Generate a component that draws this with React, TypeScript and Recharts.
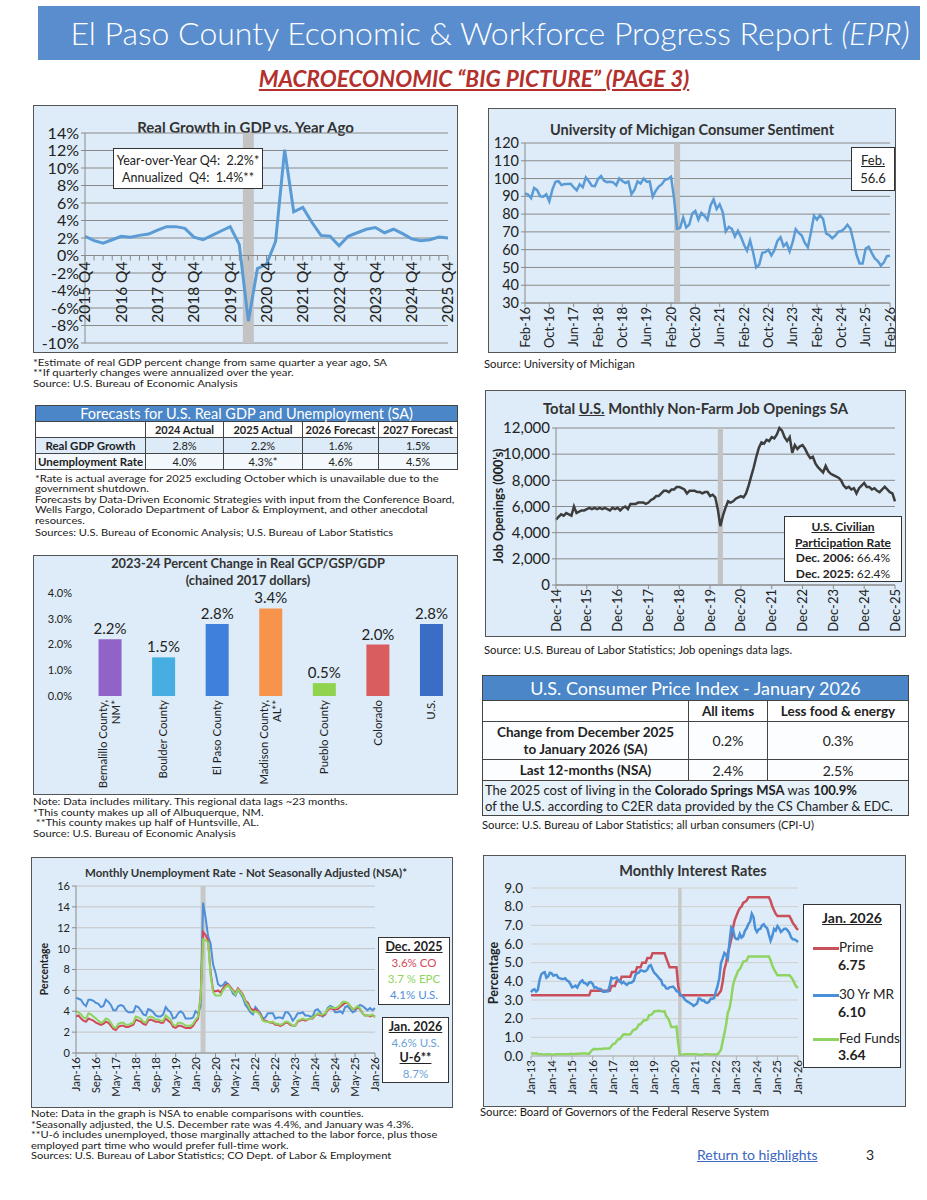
import React from 'react';
import { LineChart, Line, XAxis, YAxis, CartesianGrid, ReferenceArea, BarChart, Bar, Cell, LabelList } from 'recharts';

const FONT = "Lato, 'Open Sans', 'DejaVu Sans', sans-serif";
const MONTHS = ['Jan', 'Feb', 'Mar', 'Apr', 'May', 'Jun', 'Jul', 'Aug', 'Sep', 'Oct', 'Nov', 'Dec'];

function monthLabels(startYear: number, startMonth: number, count: number): string[] {
  const out: string[] = [];
  for (let i = 0; i < count; i++) {
    const k = startMonth + i;
    const y = startYear + Math.floor(k / 12);
    out.push(`${MONTHS[k % 12]}-${String(y % 100).padStart(2, '0')}`);
  }
  return out;
}
function quarterLabels(startYear: number, startQ: number, count: number): string[] {
  const out: string[] = [];
  for (let i = 0; i < count; i++) {
    const k = startQ - 1 + i;
    out.push(`${startYear + Math.floor(k / 4)} Q${(k % 4) + 1}`);
  }
  return out;
}

// ---------- GDP ----------
const gdpQuarters = quarterLabels(2015, 4, 41);
const gdpYoY = [2.2, 1.7, 1.4, 1.8, 2.2, 2.1, 2.3, 2.45, 2.9, 3.3, 3.3, 3.1, 2.1, 1.8, 2.3, 2.8, 3.3, 1.25, -7.5, -1.5, -1.0, 1.6, 12.1, 5.0, 5.5, 3.8, 2.3, 2.2, 1.1, 2.2, 2.6, 3.0, 3.2, 2.6, 3.0, 2.5, 1.9, 1.7, 1.8, 2.1, 2.0];
const gdpTicks = [-10, -8, -6, -4, -2, 0, 2, 4, 6, 8, 10, 12, 14];

// ---------- Consumer sentiment (Feb-16 .. Feb-26) ----------
const sent2016 = [91.7, 91.0, 89.0, 94.7, 93.5, 90.0, 89.8, 91.2, 87.2, 93.8, 98.2];
const sent2017 = [98.5, 96.3, 96.9, 97.0, 97.1, 95.1, 93.4, 96.8, 95.1, 100.7, 98.5, 95.9];
const sent2018 = [95.7, 99.7, 101.4, 98.8, 98.0, 98.2, 97.9, 96.2, 100.1, 98.6, 97.5, 98.3];
const sent2019 = [91.2, 93.8, 98.4, 97.2, 100.0, 98.2, 98.4, 89.8, 93.2, 95.5, 96.8, 99.3];
const sent2020 = [99.8, 101.0, 89.1, 71.8, 72.3, 78.1, 72.5, 74.1, 80.4, 81.8, 76.9, 80.7];
const sent2021 = [79.0, 76.8, 84.9, 88.3, 82.9, 85.5, 81.2, 70.3, 72.8, 71.7, 67.4, 70.6];
const sent2022 = [67.2, 62.8, 59.4, 65.2, 58.4, 50.0, 51.5, 58.2, 58.6, 59.9, 56.8, 59.7];
const sent2023 = [64.9, 67.0, 62.0, 63.7, 59.0, 64.2, 71.5, 69.4, 67.9, 63.8, 61.3, 69.7];
const sent2024 = [79.0, 76.9, 79.4, 77.2, 69.1, 68.2, 66.4, 67.9, 70.1, 70.5, 71.8, 74.0];
const sent2025 = [71.7, 64.7, 57.0, 52.2, 52.2, 60.7, 61.7, 58.2, 55.1, 53.6, 51.0, 52.9];
const sent2026 = [56.4, 56.6];
const sentTicks = [30, 40, 50, 60, 70, 80, 90, 100, 110, 120];

// ---------- Job openings (Dec-14 .. Dec-25), thousands ----------
const jobs2014 = [5000];
const jobs2015 = [5200, 5400, 5300, 5500, 5400, 5300, 6000, 5500, 5600, 5700, 5700, 5800];
const jobs2016 = [5900, 5800, 5900, 5800, 5900, 5800, 5900, 5800, 5700, 5900, 5800, 5900];
const jobs2017 = [5700, 5900, 6000, 5800, 6200, 6200, 6200, 6300, 6300, 6300, 6200, 6300];
const jobs2018 = [6500, 6600, 6800, 6800, 7000, 7200, 7200, 7100, 7300, 7300, 7500, 7500];
const jobs2019 = [7400, 7300, 7000, 7200, 7200, 7200, 7100, 7100, 7000, 7100, 7100, 6800];
const jobs2020 = [6900, 6700, 5800, 4500, 5300, 5900, 6400, 6300, 6400, 6600, 6700, 6800];
const jobs2021 = [6700, 7000, 7600, 8300, 9000, 9800, 10500, 10900, 10800, 11100, 11000, 11300];
const jobs2022 = [11200, 11500, 12000, 11800, 11300, 11000, 11300, 10100, 10700, 10400, 10600, 10700];
const jobs2023 = [10400, 10000, 9700, 9800, 9300, 9000, 8800, 8600, 9100, 8700, 8500, 8400];
const jobs2024 = [8300, 8200, 8000, 7600, 7400, 7500, 7300, 7400, 7000, 7400, 7600, 7800];
const jobs2025 = [7500, 7500, 7300, 7400, 7200, 7100, 7300, 7500, 7300, 7100, 7000, 6400];
const jobsTicks = [0, 2000, 4000, 6000, 8000, 10000, 12000];

// ---------- Regional GDP bars ----------
const regionNames = ['Bernalillo County, NM*', 'Boulder County', 'El Paso County', 'Madison County, AL**', 'Pueblo County', 'Colorado', 'U.S.'];
const regionGrowth = [2.2, 1.5, 2.8, 3.4, 0.5, 2.0, 2.8];
const regionColors = ['#9163c9', '#46aee0', '#3f80dc', '#f7944c', '#8fd34f', '#d95c5e', '#3a6ec6'];
const regionTicks = [0, 1, 2, 3, 4];

// ---------- Unemployment NSA (Jan-16 .. Jan-26) ----------
const usU = [
  5.3, 5.2, 5.1, 4.7, 4.5, 5.1, 5.1, 5.0, 4.8, 4.7, 4.4, 4.5,
  5.1, 4.9, 4.6, 4.1, 4.1, 4.5, 4.6, 4.5, 4.1, 3.9, 3.9, 3.9,
  4.5, 4.4, 4.1, 3.7, 3.6, 4.2, 4.1, 3.9, 3.6, 3.5, 3.5, 3.7,
  4.4, 4.1, 3.9, 3.3, 3.4, 3.8, 4.0, 3.8, 3.3, 3.3, 3.3, 3.4,
  4.0, 3.8, 4.5, 14.4, 13.0, 11.2, 10.5, 8.5, 7.7, 6.6, 6.4, 6.5,
  6.8, 6.6, 6.2, 5.7, 5.5, 6.1, 5.7, 5.3, 4.6, 4.3, 3.9, 3.7,
  4.4, 4.1, 3.8, 3.3, 3.4, 3.8, 3.8, 3.8, 3.3, 3.4, 3.4, 3.3,
  3.9, 3.9, 3.6, 3.1, 3.4, 3.8, 3.8, 3.9, 3.6, 3.6, 3.5, 3.5,
  4.1, 4.2, 3.9, 3.5, 3.7, 4.3, 4.5, 4.4, 3.9, 3.9, 4.0, 3.8,
  4.4, 4.5, 4.2, 3.9, 4.0, 4.4, 4.6, 4.5, 4.3, 4.1, 4.3, 4.1,
  4.3,
];
const coU = [
  3.5, 3.6, 3.3, 3.1, 3.0, 3.3, 3.2, 3.1, 2.9, 2.8, 2.7, 2.8,
  3.0, 2.9, 2.6, 2.3, 2.2, 2.5, 2.6, 2.6, 2.5, 2.5, 2.6, 2.7,
  3.2, 3.1, 3.0, 2.8, 2.7, 3.1, 3.2, 3.1, 3.0, 3.0, 2.9, 2.9,
  3.3, 3.1, 2.9, 2.5, 2.4, 2.6, 2.6, 2.5, 2.4, 2.4, 2.4, 2.6,
  3.0, 3.3, 5.4, 11.6, 11.3, 10.8, 7.8, 6.0, 5.9, 6.0, 5.8, 6.2,
  6.5, 6.6, 6.3, 6.0, 5.7, 6.2, 5.9, 5.6, 5.0, 4.8, 4.3, 4.1,
  4.2, 4.0, 3.7, 3.2, 3.1, 3.0, 2.9, 2.9, 2.7, 2.7, 2.6, 2.7,
  2.9, 2.9, 2.7, 2.6, 2.6, 3.0, 3.1, 3.2, 3.1, 3.2, 3.3, 3.3,
  3.6, 3.7, 3.6, 3.6, 3.7, 4.1, 4.3, 4.2, 4.2, 4.2, 4.4, 4.6,
  4.8, 4.8, 4.5, 4.2, 4.2, 4.4, 4.2, 3.8, 3.6, 3.6, 3.5, 3.6,
  3.5,
];
const epcU = [
  4.0, 3.9, 3.7, 3.4, 3.3, 3.8, 3.7, 3.5, 3.3, 3.1, 2.9, 3.0,
  3.3, 3.2, 2.9, 2.5, 2.4, 2.8, 2.9, 2.9, 2.7, 2.7, 2.8, 2.9,
  3.5, 3.4, 3.3, 3.0, 2.9, 3.4, 3.5, 3.4, 3.2, 3.2, 3.1, 3.1,
  3.6, 3.4, 3.2, 2.7, 2.6, 2.9, 2.9, 2.8, 2.6, 2.6, 2.6, 2.8,
  3.2, 3.5, 5.2, 10.9, 10.8, 10.6, 7.5, 5.8, 5.5, 5.5, 5.5, 6.0,
  6.3, 6.5, 6.2, 5.9, 5.6, 6.1, 5.8, 5.5, 4.9, 4.6, 4.1, 3.9,
  4.0, 3.9, 3.6, 3.1, 3.0, 3.0, 2.9, 3.0, 2.8, 2.8, 2.7, 2.8,
  3.0, 3.0, 2.8, 2.6, 2.6, 3.1, 3.2, 3.3, 3.2, 3.2, 3.3, 3.4,
  3.6, 3.8, 3.7, 3.7, 3.8, 4.2, 4.4, 4.3, 4.3, 4.4, 4.6, 4.9,
  4.9, 4.8, 4.5, 4.2, 4.3, 4.5, 4.3, 3.8, 3.6, 3.6, 3.6, 3.7,
  3.4,
];
const unempTicks = [0, 2, 4, 6, 8, 10, 12, 14, 16];

// ---------- Interest rates (Jan-13 .. Jan-26) ----------
const primeRate = [
  3.25, 3.25, 3.25, 3.25, 3.25, 3.25, 3.25, 3.25, 3.25, 3.25, 3.25, 3.25,
  3.25, 3.25, 3.25, 3.25, 3.25, 3.25, 3.25, 3.25, 3.25, 3.25, 3.25, 3.25,
  3.25, 3.25, 3.25, 3.25, 3.25, 3.25, 3.25, 3.25, 3.25, 3.25, 3.25, 3.5,
  3.5, 3.5, 3.5, 3.5, 3.5, 3.5, 3.5, 3.5, 3.5, 3.5, 3.5, 3.75,
  3.75, 3.75, 4.0, 4.0, 4.0, 4.25, 4.25, 4.25, 4.25, 4.25, 4.25, 4.5,
  4.5, 4.5, 4.75, 4.75, 4.75, 5.0, 5.0, 5.0, 5.25, 5.25, 5.25, 5.5,
  5.5, 5.5, 5.5, 5.5, 5.5, 5.5, 5.5, 5.25, 5.0, 4.75, 4.75, 4.75,
  4.75, 4.75, 3.78, 3.25, 3.25, 3.25, 3.25, 3.25, 3.25, 3.25, 3.25, 3.25,
  3.25, 3.25, 3.25, 3.25, 3.25, 3.25, 3.25, 3.25, 3.25, 3.25, 3.25, 3.25,
  3.25, 3.25, 3.37, 3.5, 3.98, 4.65, 4.98, 5.5, 5.85, 6.25, 6.85, 7.27,
  7.5, 7.74, 7.92, 8.0, 8.21, 8.25, 8.33, 8.5, 8.5, 8.5, 8.5, 8.5,
  8.5, 8.5, 8.5, 8.5, 8.5, 8.5, 8.5, 8.5, 8.3, 8.0, 7.81, 7.61,
  7.5, 7.5, 7.5, 7.5, 7.5, 7.5, 7.5, 7.5, 7.32, 7.12, 7.0, 6.86,
  6.75,
];
const mortgageRate = [
  3.41, 3.53, 3.57, 3.45, 3.54, 4.07, 4.37, 4.46, 4.49, 4.19, 4.26, 4.46,
  4.43, 4.30, 4.34, 4.34, 4.19, 4.16, 4.13, 4.12, 4.16, 4.04, 4.00, 3.86,
  3.67, 3.71, 3.77, 3.67, 3.84, 3.98, 4.05, 3.91, 3.89, 3.80, 3.94, 3.96,
  3.87, 3.66, 3.69, 3.61, 3.60, 3.57, 3.44, 3.44, 3.46, 3.47, 3.77, 4.20,
  4.15, 4.17, 4.20, 4.05, 4.01, 3.90, 3.97, 3.88, 3.81, 3.90, 3.92, 3.95,
  4.03, 4.33, 4.44, 4.47, 4.59, 4.57, 4.53, 4.55, 4.63, 4.83, 4.87, 4.64,
  4.46, 4.37, 4.27, 4.14, 4.07, 3.80, 3.77, 3.62, 3.61, 3.69, 3.70, 3.72,
  3.62, 3.47, 3.45, 3.31, 3.23, 3.16, 3.02, 2.94, 2.89, 2.83, 2.77, 2.68,
  2.74, 2.81, 3.08, 3.06, 2.96, 2.98, 2.87, 2.84, 2.90, 3.07, 3.07, 3.10,
  3.45, 3.76, 4.17, 4.98, 5.23, 5.52, 5.41, 5.22, 6.11, 6.90, 6.81, 6.36,
  6.27, 6.26, 6.54, 6.34, 6.43, 6.71, 6.84, 7.07, 7.20, 7.62, 7.44, 6.82,
  6.64, 6.78, 6.82, 7.00, 7.06, 6.92, 6.85, 6.50, 6.18, 6.43, 6.81, 6.72,
  6.96, 6.84, 6.65, 6.73, 6.82, 6.82, 6.72, 6.59, 6.35, 6.25, 6.24, 6.19,
  6.10,
];
const fedFunds = [
  0.14, 0.15, 0.14, 0.15, 0.11, 0.09, 0.09, 0.08, 0.08, 0.09, 0.08, 0.09,
  0.07, 0.07, 0.08, 0.09, 0.09, 0.10, 0.09, 0.09, 0.09, 0.09, 0.09, 0.12,
  0.11, 0.11, 0.11, 0.12, 0.12, 0.13, 0.13, 0.14, 0.14, 0.12, 0.12, 0.24,
  0.34, 0.38, 0.36, 0.37, 0.37, 0.38, 0.39, 0.40, 0.40, 0.40, 0.41, 0.54,
  0.65, 0.66, 0.79, 0.90, 0.91, 1.04, 1.15, 1.16, 1.15, 1.15, 1.16, 1.30,
  1.41, 1.42, 1.51, 1.69, 1.70, 1.82, 1.91, 1.91, 1.95, 2.19, 2.20, 2.27,
  2.40, 2.40, 2.41, 2.42, 2.39, 2.38, 2.40, 2.13, 2.04, 1.83, 1.55, 1.55,
  1.55, 1.58, 0.65, 0.05, 0.05, 0.08, 0.09, 0.10, 0.09, 0.09, 0.09, 0.09,
  0.09, 0.08, 0.07, 0.07, 0.06, 0.08, 0.10, 0.09, 0.08, 0.08, 0.08, 0.08,
  0.08, 0.08, 0.20, 0.33, 0.77, 1.21, 1.68, 2.33, 2.56, 3.08, 3.78, 4.10,
  4.33, 4.57, 4.65, 4.83, 5.06, 5.08, 5.12, 5.33, 5.33, 5.33, 5.33, 5.33,
  5.33, 5.33, 5.33, 5.33, 5.33, 5.33, 5.33, 5.33, 5.13, 4.83, 4.64, 4.48,
  4.33, 4.33, 4.33, 4.33, 4.33, 4.33, 4.33, 4.33, 4.22, 4.09, 3.88, 3.72,
  3.64,
];
const rateTicks = [0, 1, 2, 3, 4, 5, 6, 7, 8, 9];

// ---------- build tables for recharts ----------
const gdpRows = gdpQuarters.map((q, i) => ({ i, q, v: gdpYoY[i], zero: 0 }));
const sentAll = [...sent2016, ...sent2017, ...sent2018, ...sent2019, ...sent2020, ...sent2021, ...sent2022, ...sent2023, ...sent2024, ...sent2025, ...sent2026];
const sentRows = monthLabels(2016, 1, sentAll.length).map((m, i) => ({ m, v: sentAll[i] }));
const jobsAll = [...jobs2014, ...jobs2015, ...jobs2016, ...jobs2017, ...jobs2018, ...jobs2019, ...jobs2020, ...jobs2021, ...jobs2022, ...jobs2023, ...jobs2024, ...jobs2025];
const jobsRows = monthLabels(2014, 11, jobsAll.length).map((m, i) => ({ m, v: jobsAll[i] }));
const regionRows = regionNames.map((name, i) => ({ name, v: regionGrowth[i] }));
const unempRows = monthLabels(2016, 0, usU.length).map((m, i) => ({ m, us: usU[i], co: coU[i], epc: epcU[i] }));
const rateRows = monthLabels(2013, 0, primeRate.length).map((m, i) => ({ m, prime: primeRate[i], mort: mortgageRate[i], ff: fedFunds[i] }));

// ---------- helpers ----------
const rotTick = (fs: number) => (props: any) => {
  const { x, y, payload } = props;
  return (
    <text x={x} y={y} transform={`rotate(-90 ${x} ${y})`} textAnchor="end" dy="0.35em" fontSize={fs} fill="#222" fontFamily={FONT}>
      {payload.value}
    </text>
  );
};

const regionTick = (props: any) => {
  const { x, y, payload } = props;
  const s: string = payload.value;
  const parts = s.length > 16 && s.includes(', ') ? [s.slice(0, s.indexOf(', ') + 1), s.slice(s.indexOf(', ') + 2)] : [s];
  const gap = 13;
  return (
    <g transform={`translate(${x},${y}) rotate(-90)`}>
      {parts.map((p, k) => (
        <text key={k} x={0} y={(k - (parts.length - 1) / 2) * gap} dy="0.35em" textAnchor="end" fontSize={11.4} fill="#222" fontFamily={FONT}>
          {p}
        </text>
      ))}
    </g>
  );
};

const quarterDot = (props: any) => {
  const { cx, cy, index, payload } = props;
  const lab: string = payload.q;
  return (
    <g key={`qd-${index}`}>
      <line x1={cx} y1={cy} x2={cx} y2={cy + 5} stroke="#8a8a8a" strokeWidth={1} />
      {lab.endsWith('Q4') && (
        <text transform={`translate(${cx},${cy + 6}) rotate(-90)`} textAnchor="end" dy="0.35em" fontSize={15.5} fill="#222" fontFamily={FONT}>
          {lab}
        </text>
      )}
    </g>
  );
};

const Abs = ({ x, y, w, h, style, children }: any) => (
  <div style={{ position: 'absolute', left: x, top: y, width: w, height: h, ...style }}>{children}</div>
);

const Note = ({ x, y, lh = 10.4, size = 10.3, sx = 1, lines }: any) => (
  <div style={{ position: 'absolute', left: x, top: y, fontSize: size, lineHeight: `${lh}px`, color: '#1a1a1a', whiteSpace: 'pre', transform: `scaleX(${sx})`, transformOrigin: 'left top' }}>
    {lines.map((l: any, i: number) => (
      <div key={i}>{l}</div>
    ))}
  </div>
);

const RotLabel = ({ cx, cy, size, text }: any) => (
  <div style={{ position: 'absolute', left: cx, top: cy, transform: 'translate(-50%,-50%) rotate(-90deg)', fontSize: size, fontWeight: 700, whiteSpace: 'nowrap', color: '#222' }}>
    {text}
  </div>
);

const PANEL_BG = '#ddecf8';
const panel = { background: PANEL_BG, border: '1px solid #555', boxSizing: 'border-box' as const };
const td = (extra: any = {}) => ({ border: '1px solid #444', padding: 0, textAlign: 'center' as const, ...extra });

export default function App() {
  return (
    <div style={{ position: 'absolute', left: 0, top: 0, width: 927, height: 1200, background: '#fff', overflow: 'hidden', fontFamily: FONT, color: '#1a1a1a' }}>
      <style>{'.recharts-surface{overflow:visible}'}</style>
      {/* Header */}
      <Abs x={38} y={6} w={882} h={54} style={{ background: '#5a8dcd', color: '#fff', fontSize: 32, lineHeight: '54px', textAlign: 'center', fontWeight: 300, whiteSpace: 'nowrap', paddingLeft: 22, boxSizing: 'border-box' }}>
        El Paso County Economic &amp; Workforce Progress Report <i>(EPR)</i>
      </Abs>
      <Abs x={0} y={65} w={948} h={28} style={{ textAlign: 'center', color: '#b3302d', fontSize: 22.5, fontWeight: 700, fontStyle: 'italic', textDecoration: 'underline', lineHeight: '28px' }}>
        MACROECONOMIC “BIG PICTURE” (PAGE 3)
      </Abs>

      {/* GDP panel */}
      <Abs x={33} y={105} w={425} h={248} style={panel} />
      <Abs x={33} y={117} w={425} h={20} style={{ textAlign: 'center', fontSize: 15, fontWeight: 700, lineHeight: '20px', color: '#333' }}>
        Real Growth in GDP vs. Year Ago
      </Abs>
      <div style={{ position: 'absolute', left: 33, top: 105 }}>
        <LineChart width={425} height={248} data={gdpRows} margin={{ top: 28, right: 10, bottom: 10, left: 0 }}>
          <CartesianGrid vertical={false} stroke="#8a8a8a" />
          <ReferenceArea x1={17.4} x2={18.6} fill="#c3c3c3" fillOpacity={1} stroke="none" />
          <XAxis type="number" dataKey="i" domain={[0, 40]} hide />
          <YAxis domain={[-10, 14]} ticks={gdpTicks} interval={0} tickFormatter={(v: number) => `${v}%`} width={52} tick={{ fontSize: 16, fill: '#222' }} axisLine={{ stroke: '#8a8a8a' }} tickLine={{ stroke: '#8a8a8a' }} tickSize={4} />
          <Line dataKey="zero" stroke="#8a8a8a" strokeWidth={1} dot={quarterDot} activeDot={false} isAnimationActive={false} />
          <Line dataKey="v" stroke="#5b9bd5" strokeWidth={3} dot={false} isAnimationActive={false} />
        </LineChart>
      </div>
      <Abs x={113} y={148} w={150} h={41} style={{ background: '#fff', border: '1px solid #333', boxSizing: 'border-box', fontSize: 12.5, lineHeight: '17px', textAlign: 'center', paddingTop: 3, color: '#222' }}>
        <div>Year-over-Year Q4:&nbsp; 2.2%*</div>
        <div>Annualized&nbsp; Q4:&nbsp; 1.4%**</div>
      </Abs>
      <Note x={33} y={357} sx={1.1} lines={['*Estimate of real GDP percent change from same quarter a year ago, SA', '**If quarterly changes were annualized over the year.', 'Source: U.S. Bureau of Economic Analysis']} />

      {/* Consumer sentiment panel */}
      <Abs x={488} y={108} w={408} h={245} style={panel} />
      <Abs x={488} y={120} w={408} h={20} style={{ textAlign: 'center', fontSize: 14.5, fontWeight: 700, lineHeight: '20px', color: '#333' }}>
        University of Michigan Consumer Sentiment
      </Abs>
      <div style={{ position: 'absolute', left: 488, top: 108 }}>
        <LineChart width={408} height={245} data={sentRows} margin={{ top: 35, right: 6, bottom: 0, left: 0 }}>
          <CartesianGrid vertical={false} stroke="#8a8a8a" />
          <ReferenceArea x1="Mar-20" x2="May-20" fill="#c3c3c3" fillOpacity={1} stroke="none" />
          <XAxis dataKey="m" interval={7} height={50} tick={rotTick(13)} tickSize={4} tickMargin={0} axisLine={{ stroke: '#8a8a8a' }} tickLine={{ stroke: '#8a8a8a' }} />
          <YAxis domain={[30, 120]} ticks={sentTicks} interval={0} width={37} tick={{ fontSize: 14.5, fill: '#222' }} axisLine={{ stroke: '#8a8a8a' }} tickLine={{ stroke: '#8a8a8a' }} tickSize={4} />
          <Line dataKey="v" stroke="#5b9bd5" strokeWidth={2.5} dot={false} isAnimationActive={false} />
        </LineChart>
      </div>
      <Abs x={851} y={147} w={44} h={44} style={{ background: '#fff', border: '1px solid #333', boxSizing: 'border-box', fontSize: 13, lineHeight: '18px', textAlign: 'center', paddingTop: 3, color: '#222' }}>
        <div style={{ textDecoration: 'underline' }}>Feb.</div>
        <div>56.6</div>
      </Abs>
      <Note x={484} y={358} lh={12} size={11.3} lines={['Source: University of Michigan']} />

      {/* Forecast table */}
      <table style={{ position: 'absolute', left: 35, top: 405, width: 422, borderCollapse: 'collapse', tableLayout: 'fixed', fontSize: 11, color: '#222' }}>
        <colgroup>
          <col style={{ width: 110 }} />
          <col style={{ width: 78 }} />
          <col style={{ width: 79 }} />
          <col style={{ width: 76 }} />
          <col style={{ width: 79 }} />
        </colgroup>
        <tbody>
          <tr style={{ height: 16 }}>
            <td colSpan={5} style={td({ background: '#4a86c8', color: '#fff', fontSize: 14.5, lineHeight: '15px' })}>Forecasts for U.S. Real GDP and Unemployment (SA)</td>
          </tr>
          <tr style={{ height: 16, background: '#fff', fontWeight: 700 }}>
            <td style={td()}></td>
            <td style={td()}>2024 Actual</td>
            <td style={td()}>2025 Actual</td>
            <td style={td()}>2026 Forecast</td>
            <td style={td()}>2027 Forecast</td>
          </tr>
          <tr style={{ height: 16, background: '#dcebf7' }}>
            <td style={td({ fontWeight: 700, fontSize: 11.5 })}>Real GDP Growth</td>
            <td style={td()}>2.8%</td>
            <td style={td()}>2.2%</td>
            <td style={td()}>1.6%</td>
            <td style={td()}>1.5%</td>
          </tr>
          <tr style={{ height: 16, background: '#f3f8fc' }}>
            <td style={td({ fontWeight: 700, fontSize: 11.5 })}>Unemployment Rate</td>
            <td style={td()}>4.0%</td>
            <td style={td()}>4.3%*</td>
            <td style={td()}>4.6%</td>
            <td style={td()}>4.5%</td>
          </tr>
        </tbody>
      </table>
      <Note x={35} y={473} sx={1.09} lines={['*Rate is actual average for 2025 excluding October which is unavailable due to the', 'government shutdown.', 'Forecasts by Data-Driven Economic Strategies with input from the Conference Board,', 'Wells Fargo, Colorado Department of Labor & Employment, and other anecdotal', 'resources.']} />
      <Note x={35} y={527} lh={11} size={10.3} sx={1.08} lines={['Sources: U.S. Bureau of Economic Analysis; U.S. Bureau of Labor Statistics']} />

      {/* Regional bar panel */}
      <Abs x={33} y={555} w={425} h={240} style={panel} />
      <Abs x={33} y={555} w={430} h={34} style={{ textAlign: 'center', fontSize: 12.8, fontWeight: 700, lineHeight: '17px', color: '#333' }}>
        <div>2023-24 Percent Change in Real GCP/GSP/GDP</div>
        <div>(chained 2017 dollars)</div>
      </Abs>
      <div style={{ position: 'absolute', left: 33, top: 555 }}>
        <BarChart width={425} height={240} data={regionRows} margin={{ top: 38, right: 0, bottom: 0, left: 0 }} barCategoryGap="29%">
          <XAxis dataKey="name" interval={0} height={99} tick={regionTick} axisLine={false} tickLine={false} tickSize={4} tickMargin={0} />
          <YAxis domain={[0, 4]} ticks={regionTicks} interval={0} tickFormatter={(v: number) => `${v.toFixed(1)}%`} width={50} tick={{ fontSize: 11, fill: '#222' }} axisLine={false} tickLine={false} tickSize={6} tickMargin={5} />
          <Bar dataKey="v" isAnimationActive={false}>
            {regionRows.map((r, i) => (
              <Cell key={r.name} fill={regionColors[i]} />
            ))}
            <LabelList dataKey="v" position="top" offset={5} formatter={(v: any) => `${Number(v).toFixed(1)}%`} style={{ fontSize: 15, fill: '#222' }} />
          </Bar>
        </BarChart>
      </div>
      <Note x={33} y={796} lh={10.6} sx={1.09} lines={['Note: Data includes military. This regional data lags ~23 months.', '*This county makes up all of Albuquerque, NM.', ' **This county makes up half of Huntsville, AL.', 'Source: U.S. Bureau of Economic Analysis']} />

      {/* Job openings panel */}
      <Abs x={485} y={390} w={421} h={247} style={panel} />
      <Abs x={485} y={398} w={421} h={20} style={{ textAlign: 'center', fontSize: 14.8, fontWeight: 700, lineHeight: '20px', color: '#333' }}>
        Total <span style={{ textDecoration: 'underline' }}>U.S.</span> Monthly Non-Farm Job Openings SA
      </Abs>
      <div style={{ position: 'absolute', left: 485, top: 390 }}>
        <LineChart width={421} height={247} data={jobsRows} margin={{ top: 38, right: 11, bottom: 0, left: 0 }}>
          <CartesianGrid vertical={false} stroke="#8a8a8a" />
          <ReferenceArea x1="Mar-20" x2="May-20" fill="#c3c3c3" fillOpacity={1} stroke="none" />
          <XAxis dataKey="m" interval={11} height={52} tick={rotTick(13)} tickSize={4} tickMargin={0} axisLine={{ stroke: '#8a8a8a' }} tickLine={{ stroke: '#8a8a8a' }} />
          <YAxis domain={[0, 12000]} ticks={jobsTicks} interval={0} tickFormatter={(v: number) => v.toLocaleString('en-US')} width={71} tick={{ fontSize: 15, fill: '#222' }} axisLine={{ stroke: '#8a8a8a' }} tickLine={{ stroke: '#8a8a8a' }} tickSize={4} />
          <Line dataKey="v" stroke="#3d3d3d" strokeWidth={2.5} dot={false} isAnimationActive={false} />
        </LineChart>
      </div>
      <RotLabel cx={498} cy={506} size={12.5} text="Job Openings (000's)" />
      <Abs x={784} y={516} w={118} h={66} style={{ background: '#fff', border: '1px solid #333', boxSizing: 'border-box', fontSize: 12, lineHeight: '15.5px', textAlign: 'center', paddingTop: 2, color: '#222' }}>
        <div style={{ fontWeight: 700, textDecoration: 'underline' }}>U.S. Civilian</div>
        <div style={{ fontWeight: 700, textDecoration: 'underline' }}>Participation Rate</div>
        <div><b>Dec. 2006:</b> 66.4%</div>
        <div><b>Dec. 2025:</b> 62.4%</div>
      </Abs>
      <Note x={484} y={644} lh={12} size={11.3} lines={['Source: U.S. Bureau of Labor Statistics; Job openings data lags.']} />

      {/* CPI table */}
      <table style={{ position: 'absolute', left: 482, top: 675, width: 426, borderCollapse: 'collapse', tableLayout: 'fixed', fontSize: 13.5, color: '#222' }}>
        <colgroup>
          <col style={{ width: 206 }} />
          <col style={{ width: 79 }} />
          <col style={{ width: 141 }} />
        </colgroup>
        <tbody>
          <tr style={{ height: 25 }}>
            <td colSpan={3} style={td({ background: '#4a86c8', color: '#fff', fontSize: 18, lineHeight: '22px' })}>U.S. Consumer Price Index - January 2026</td>
          </tr>
          <tr style={{ height: 21, background: '#fff', fontWeight: 700 }}>
            <td style={td()}></td>
            <td style={td()}>All items</td>
            <td style={td()}>Less food &amp; energy</td>
          </tr>
          <tr style={{ height: 38, background: '#fbfdff' }}>
            <td style={td({ fontWeight: 700, lineHeight: '17px' })}>
              Change from December 2025
              <br />
              to January 2026 (SA)
            </td>
            <td style={td({ fontSize: 14 })}>0.2%</td>
            <td style={td({ fontSize: 14 })}>0.3%</td>
          </tr>
          <tr style={{ height: 21, background: '#fbfdff' }}>
            <td style={td({ fontWeight: 700 })}>Last 12-months (NSA)</td>
            <td style={td({ fontSize: 14 })}>2.4%</td>
            <td style={td({ fontSize: 14 })}>2.5%</td>
          </tr>
          <tr style={{ height: 35, background: '#e6f1fa' }}>
            <td colSpan={3} style={td({ textAlign: 'left', fontSize: 13, lineHeight: '16.5px', paddingLeft: 2 })}>
              The 2025 cost of living in the <b>Colorado Springs MSA</b> was <b>100.9%</b>
              <br />
              of the U.S. according to C2ER data provided by the CS Chamber &amp; EDC.
            </td>
          </tr>
        </tbody>
      </table>
      <Note x={482} y={819} lh={12} size={11.3} lines={['Source: U.S. Bureau of Labor Statistics; all urban consumers (CPI-U)']} />

      {/* Unemployment panel */}
      <Abs x={31} y={857} w={422} h={251} style={panel} />
      <Abs x={31} y={864} w={430} h={18} style={{ textAlign: 'center', fontSize: 11.5, fontWeight: 700, lineHeight: '18px', color: '#333' }}>
        Monthly Unemployment Rate - Not Seasonally Adjusted (NSA)*
      </Abs>
      <div style={{ position: 'absolute', left: 31, top: 857 }}>
        <LineChart width={422} height={251} data={unempRows} margin={{ top: 29, right: 78, bottom: 0, left: 0 }}>
          <CartesianGrid vertical={false} stroke="#c4c4c4" />
          <ReferenceArea x1="Mar-20" x2="May-20" fill="#c8c8c8" fillOpacity={1} stroke="none" />
          <XAxis dataKey="m" interval={7} height={55} tick={rotTick(11.5)} tickSize={4} tickMargin={0} axisLine={{ stroke: '#8a8a8a' }} tickLine={{ stroke: '#8a8a8a' }} />
          <YAxis domain={[0, 16]} ticks={unempTicks} interval={0} width={45} tick={{ fontSize: 11, fill: '#222' }} axisLine={{ stroke: '#8a8a8a' }} tickLine={{ stroke: '#8a8a8a' }} tickSize={4} />
          <Line dataKey="us" stroke="#4f8fd8" strokeWidth={2} dot={false} isAnimationActive={false} />
          <Line dataKey="co" stroke="#d2485a" strokeWidth={2} dot={false} isAnimationActive={false} />
          <Line dataKey="epc" stroke="#8fd35a" strokeWidth={2} dot={false} isAnimationActive={false} />
        </LineChart>
      </div>
      <RotLabel cx={44} cy={969} size={10.5} text="Percentage" />
      <Abs x={378} y={937} w={72} h={68} style={{ background: '#fff', border: '1px solid #333', boxSizing: 'border-box', fontSize: 11.5, lineHeight: '16px', textAlign: 'center', paddingTop: 1 }}>
        <div style={{ fontWeight: 700, textDecoration: 'underline', fontSize: 12.5, color: '#222' }}>Dec. 2025</div>
        <div style={{ color: '#d2485a' }}>3.6% CO</div>
        <div style={{ color: '#8fd35a' }}>3.7 % EPC</div>
        <div style={{ color: '#4f8fd8' }}>4.1% U.S.</div>
      </Abs>
      <Abs x={382} y={1017} w={67} h={66} style={{ background: '#fff', border: '1px solid #333', boxSizing: 'border-box', fontSize: 11.5, lineHeight: '15.5px', textAlign: 'center', paddingTop: 1 }}>
        <div style={{ fontWeight: 700, textDecoration: 'underline', fontSize: 12.5, color: '#222' }}>Jan. 2026</div>
        <div style={{ color: '#6a9fd8' }}>4.6% U.S.</div>
        <div style={{ fontWeight: 700, textDecoration: 'underline', fontSize: 12.5, color: '#222' }}>U-6**</div>
        <div style={{ color: '#6a9fd8' }}>8.7%</div>
      </Abs>
      <Note x={31} y={1108} lh={10.6} sx={1.08} lines={['Note: Data in the graph is NSA to enable comparisons with counties.', '*Seasonally adjusted, the U.S. December rate was 4.4%, and January was 4.3%.', '**U-6 includes unemployed, those marginally attached to the labor force, plus those', 'employed part time who would prefer full-time work.', 'Sources: U.S. Bureau of Labor Statistics; CO Dept. of Labor & Employment']} />

      {/* Interest rate panel */}
      <Abs x={483} y={855} w={423} h={252} style={panel} />
      <Abs x={483} y={861} w={420} h={20} style={{ textAlign: 'center', fontSize: 14.5, fontWeight: 700, lineHeight: '20px', color: '#333' }}>
        Monthly Interest Rates
      </Abs>
      <div style={{ position: 'absolute', left: 483, top: 855 }}>
        <LineChart width={423} height={252} data={rateRows} margin={{ top: 33, right: 108, bottom: 0, left: 0 }}>
          <CartesianGrid vertical={false} stroke="#cfcfcf" />
          <ReferenceArea x1="Mar-20" x2="May-20" fill="#c8c8c8" fillOpacity={1} stroke="none" />
          <XAxis dataKey="m" interval={11} height={51} tick={rotTick(11.5)} tickSize={4} tickMargin={0} axisLine={{ stroke: '#b0b0b0' }} tickLine={{ stroke: '#b0b0b0' }} />
          <YAxis domain={[0, 9]} ticks={rateTicks} interval={0} tickFormatter={(v: number) => v.toFixed(1)} width={48} tick={{ fontSize: 13.5, fill: '#222' }} axisLine={false} tickLine={false} />
          <Line dataKey="prime" stroke="#c9505a" strokeWidth={2.5} dot={false} isAnimationActive={false} />
          <Line dataKey="mort" stroke="#4a90d9" strokeWidth={2.5} dot={false} isAnimationActive={false} />
          <Line dataKey="ff" stroke="#8fd460" strokeWidth={2.5} dot={false} isAnimationActive={false} />
        </LineChart>
      </div>
      <RotLabel cx={493} cy={973} size={12.5} text="Percentage" />
      <Abs x={803} y={904} w={98} h={164} style={{ background: '#fff', border: '1px solid #333', boxSizing: 'border-box', color: '#222' }}>
        <div style={{ position: 'absolute', left: 0, width: 96, top: 4, textAlign: 'center', fontSize: 14, fontWeight: 700, textDecoration: 'underline' }}>Jan. 2026</div>
        <div style={{ position: 'absolute', left: 9, top: 42, width: 26, height: 3, background: '#c9505a' }} />
        <div style={{ position: 'absolute', left: 35, top: 34, fontSize: 13.5 }}>Prime</div>
        <div style={{ position: 'absolute', left: 34, top: 51, fontSize: 14, fontWeight: 700 }}>6.75</div>
        <div style={{ position: 'absolute', left: 9, top: 89, width: 26, height: 3, background: '#4a90d9' }} />
        <div style={{ position: 'absolute', left: 35, top: 81, fontSize: 13.5 }}>30 Yr MR</div>
        <div style={{ position: 'absolute', left: 34, top: 98, fontSize: 14, fontWeight: 700 }}>6.10</div>
        <div style={{ position: 'absolute', left: 9, top: 133, width: 26, height: 3, background: '#8fd460' }} />
        <div style={{ position: 'absolute', left: 35, top: 125, fontSize: 13.5 }}>Fed Funds</div>
        <div style={{ position: 'absolute', left: 34, top: 142, fontSize: 14, fontWeight: 700, lineHeight: '16px' }}>3.64</div>
      </Abs>
      <Note x={480} y={1106} lh={12} size={11.3} lines={['Source: Board of Governors of the Federal Reserve System']} />

      {/* Footer */}
      <Abs x={697} y={1146} w={140} h={18} style={{ fontSize: 14, color: '#3a66c0', textDecoration: 'underline', lineHeight: '18px' }}>
        Return to highlights
      </Abs>
      <Abs x={866} y={1146} w={20} h={18} style={{ fontSize: 14, lineHeight: '18px' }}>
        3
      </Abs>
    </div>
  );
}
